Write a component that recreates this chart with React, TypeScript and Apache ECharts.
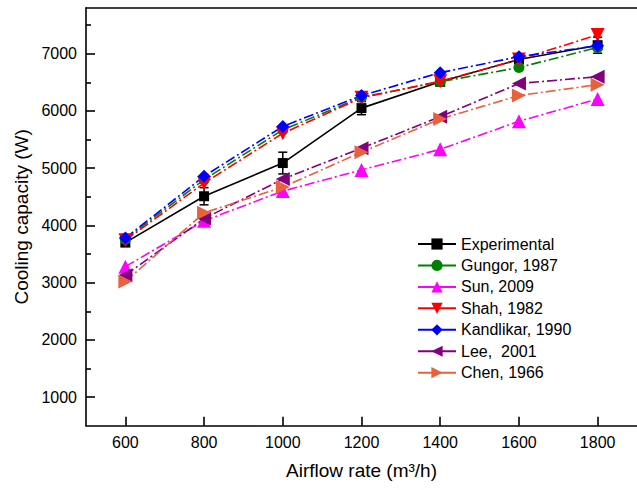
import React, { useEffect, useRef } from "react";
import * as echarts from "echarts";

const xValues = [600, 800, 1000, 1200, 1400, 1600, 1800];
const experimental = [3700, 4510, 5090, 6050, 6510, 6900, 7150];
const expError = [40, 150, 190, 115, 50, 50, 140];
const gungor = [3760, 4800, 5670, 6240, 6510, 6760, 7110];
const sun = [3280, 4080, 4600, 4970, 5330, 5820, 6210];
const shah = [3740, 4740, 5610, 6230, 6520, 6900, 7330];
const kandlikar = [3780, 4860, 5730, 6270, 6670, 6950, 7140];
const lee = [3130, 4120, 4810, 5350, 5900, 6480, 6600];
const chen = [3020, 4220, 4670, 5280, 5860, 6270, 6460];

const xTicks = [600, 800, 1000, 1200, 1400, 1600, 1800];
const yTicks = [1000, 2000, 3000, 4000, 5000, 6000, 7000];
const yMinorTicks = [1500, 2500, 3500, 4500, 5500, 6500, 7500];

const FONT = "'Liberation Sans', Arial, sans-serif";
const DASHDOT = [10, 3, 2, 3];

function pairs(vals: number[]) {
  return xValues.map((x, i) => [x, vals[i]]);
}

export default function App() {
  const ref = useRef<HTMLDivElement>(null);
  useEffect(() => {
    if (!ref.current) return;
    const chart = echarts.init(ref.current, null, { renderer: "svg" });
    const mk = (
      name: string,
      vals: number[],
      color: string,
      symbol: string,
      size: number,
      rotate: number,
      dashed: boolean
    ) => ({
      name,
      type: "line",
      data: pairs(vals),
      symbol,
      symbolSize: size,
      symbolRotate: rotate,
      itemStyle: { color, borderWidth: 0 },
      lineStyle: { color, width: 1.6, type: dashed ? DASHDOT : "solid" },
      z: 3,
    });
    const fmt = (v: number) => String(v);
    chart.setOption({
      animation: false,
      backgroundColor: "#fff",
      grid: { left: 86, top: 8, right: -11.5, bottom: 64.3, containLabel: false },
      legend: {
        orient: "vertical",
        left: 417,
        top: 236,
        padding: 0,
        itemWidth: 38,
        itemHeight: 14,
        itemGap: 5.45,
        lineStyle: { type: "solid" },
        textStyle: { fontFamily: FONT, fontSize: 16, color: "#000", lineHeight: 14, padding: [0, 0, 0, 0] },
        data: ["Experimental", "Gungor, 1987", "Sun, 2009", "Shah, 1982", "Kandlikar, 1990", "Lee,  2001", "Chen, 1966"],
      },
      xAxis: [
        {
          type: "value",
          min: 500,
          max: 1900,
          name: "Airflow rate (m³/h)",
          nameLocation: "middle",
          nameGap: 35,
          nameTextStyle: { fontFamily: FONT, fontSize: 19, color: "#000" },
          axisLine: { show: true, onZero: false, lineStyle: { color: "#000", width: 1.6 } },
          axisTick: { show: true, inside: true, length: 9, customValues: xTicks, lineStyle: { color: "#000", width: 1.6 } },
          axisLabel: { customValues: xTicks, formatter: fmt, fontFamily: FONT, fontSize: 16, color: "#000", margin: 9 },
          splitLine: { show: false },
        },
        {
          type: "value",
          position: "top",
          min: 500,
          max: 1900,
          axisLine: { show: true, onZero: false, lineStyle: { color: "#000", width: 1.6 } },
          axisTick: { show: false },
          axisLabel: { show: false },
          splitLine: { show: false },
        },
      ],
      yAxis: [
        {
          type: "value",
          min: 500,
          max: 7800,
          name: "Cooling capacity (W)",
          nameLocation: "middle",
          nameRotate: 90,
          nameGap: 55,
          nameTextStyle: { fontFamily: FONT, fontSize: 19, color: "#000" },
          axisLine: { show: true, onZero: false, lineStyle: { color: "#000", width: 1.6 } },
          axisTick: { show: true, inside: true, length: 9, customValues: yTicks, lineStyle: { color: "#000", width: 1.6 } },
          axisLabel: { customValues: yTicks, formatter: fmt, fontFamily: FONT, fontSize: 16, color: "#000", margin: 9 },
          splitLine: { show: false },
        },
        {
          type: "value",
          position: "left",
          min: 500,
          max: 7800,
          axisLine: { show: false },
          axisTick: { show: true, inside: true, length: 5, customValues: yMinorTicks, lineStyle: { color: "#000", width: 1.6 } },
          axisLabel: { show: false },
          splitLine: { show: false },
        },
      ],
      series: [
        {
          name: "Experimental error",
          type: "custom",
          data: xValues.map((x, i) => [x, experimental[i], expError[i]]),
          renderItem: (params: any, api: any) => {
            const x = api.value(0);
            const y = api.value(1);
            const e = api.value(2);
            const top = api.coord([x, y + e]);
            const bot = api.coord([x, y - e]);
            const w = 4.5;
            const st = { stroke: "#000", lineWidth: 1.5 };
            return {
              type: "group",
              children: [
                { type: "line", shape: { x1: top[0], y1: top[1], x2: bot[0], y2: bot[1] }, style: st },
                { type: "line", shape: { x1: top[0] - w, y1: top[1], x2: top[0] + w, y2: top[1] }, style: st },
                { type: "line", shape: { x1: bot[0] - w, y1: bot[1], x2: bot[0] + w, y2: bot[1] }, style: st },
              ],
            };
          },
          z: 2,
          silent: true,
        },
        mk("Experimental", experimental, "#000000", "rect", 10, 0, false),
        mk("Gungor, 1987", gungor, "#008000", "circle", 11, 0, true),
        mk("Sun, 2009", sun, "#ff00ff", "triangle", 14, 0, true),
        mk("Shah, 1982", shah, "#ff0000", "triangle", 14, 180, true),
        mk("Kandlikar, 1990", kandlikar, "#0000ff", "diamond", 13, 0, true),
        mk("Lee,  2001", lee, "#800080", "triangle", 14, 90, true),
        mk("Chen, 1966", chen, "#e9603d", "triangle", 14, -90, true),
      ],
    });
    return () => chart.dispose();
  }, []);
  return <div ref={ref} style={{ position: "fixed", left: 0, top: 0, width: 637, height: 490 }} />;
}
